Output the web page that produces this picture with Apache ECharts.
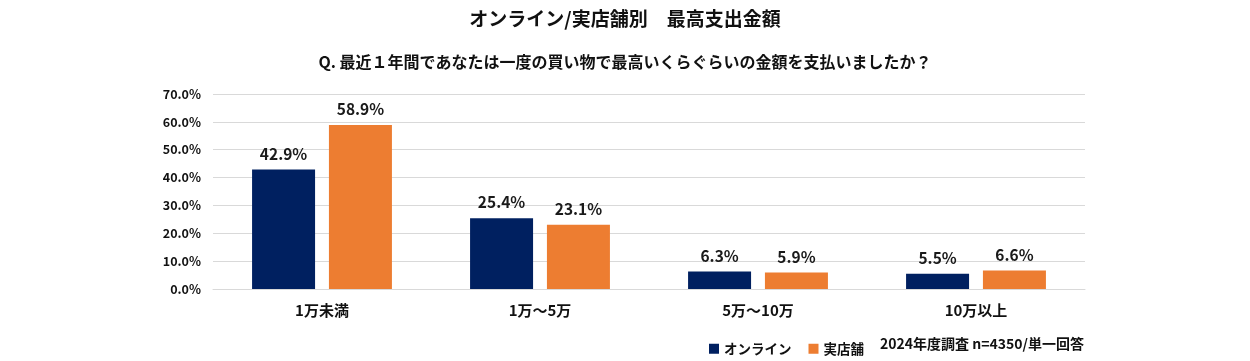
<!DOCTYPE html>
<html><head><meta charset="utf-8">
<script src="https://cdn.jsdelivr.net/npm/echarts@6/dist/echarts.min.js"></script>
<style>html,body{margin:0;padding:0;background:#fff}#c{width:1250px;height:361px}</style>
</head><body><div id="c"></div>
<script>
const categories = ['1万未満', '1万～5万', '5万～10万', '10万以上'];
const online = [42.9, 25.4, 6.3, 5.5];
const store = [58.9, 23.1, 5.9, 6.6];
const seriesNames = ['オンライン', '実店舗'];
const titleText = 'オンライン/実店舗別　最高支出金額';
const subText = 'Q. 最近１年間であなたは一度の買い物で最高いくらぐらいの金額を支払いましたか？';
const noteText = '2024年度調査 n=4350/単一回答';
const FONT = '"Noto Sans CJK JP", "Noto Sans", sans-serif';
const chart = echarts.init(document.getElementById('c'));
const lbl = {show: true, position: 'top', distance: 8, formatter: p => p.value.toFixed(1) + '%', fontFamily: FONT, fontWeight: 'bold', fontSize: 15.5, color: '#1a1a1a'};
chart.setOption({
  textStyle: {fontFamily: FONT},
  title: [
    {text: titleText, left: 'center', top: 4, textStyle: {fontFamily: FONT, fontWeight: 'bold', fontSize: 19, color: '#111'}},
    {text: subText, left: 'center', top: 49, textStyle: {fontFamily: FONT, fontWeight: 'bold', fontSize: 16, color: '#111'}}
  ],
  legend: {
    data: seriesNames, left: 704, top: 337, itemWidth: 10, itemHeight: 10, itemGap: 17,
    icon: 'rect',
    textStyle: {fontFamily: FONT, fontWeight: 'bold', fontSize: 13.5, color: '#111'}
  },
  graphic: [{type: 'text', left: 880, top: 337, style: {text: noteText, font: 'bold 14px ' + FONT, fill: '#111'}}],
  grid: {left: 213, right: 165, top: 94, bottom: 72, containLabel: false},
  xAxis: {
    type: 'category', data: categories,
    axisLine: {show: true, lineStyle: {color: '#d9d9d9'}}, axisTick: {show: false},
    axisLabel: {fontFamily: FONT, fontWeight: 'bold', fontSize: 15, color: '#111', margin: 14}
  },
  yAxis: {
    type: 'value', min: 0, max: 70, interval: 10,
    axisLabel: {formatter: v => v.toFixed(1) + '%', fontFamily: FONT, fontWeight: 'bold', fontSize: 12.5, color: '#111', margin: 12},
    splitLine: {lineStyle: {color: '#d9d9d9'}}, axisLine: {show: false}, axisTick: {show: false}
  },
  series: [
    {name: seriesNames[0], type: 'bar', data: online, barWidth: 63, barGap: '22%', itemStyle: {color: '#002060'}, label: lbl},
    {name: seriesNames[1], type: 'bar', data: store, barWidth: 63, itemStyle: {color: '#ED7D31'}, label: lbl}
  ]
});
</script></body></html>
